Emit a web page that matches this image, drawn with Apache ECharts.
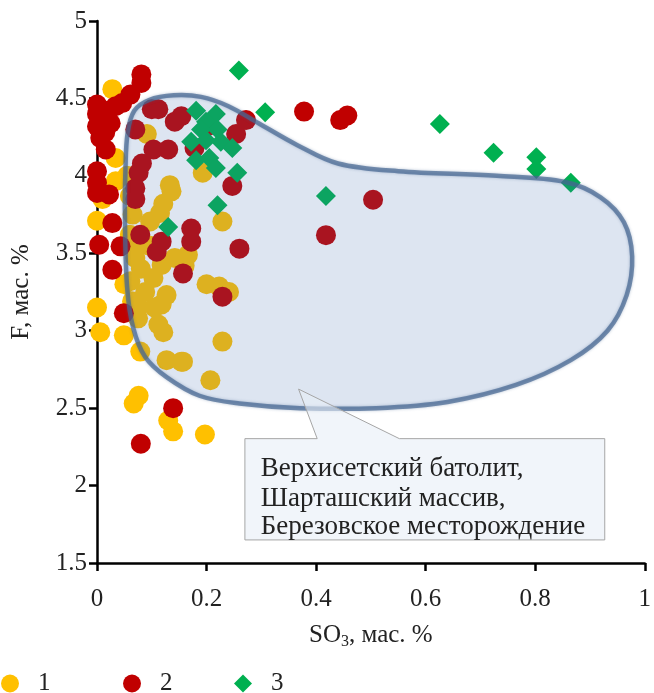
<!DOCTYPE html>
<html><head><meta charset="utf-8">
<script src="https://cdn.jsdelivr.net/npm/echarts@6/dist/echarts.min.js"></script>
<style>html,body{margin:0;padding:0;background:#fff}#c{width:654px;height:693px}</style>
</head><body><div id="c"></div>
<script>
// ---- data ----
const seriesNames = ['1', '2', '3'];
const series1 = [
  [0.028,4.56],[0.091,4.27],[0.034,4.115],[0.034,3.965],[0.133,3.94],[0.136,3.90],[0.121,3.82],[0.115,3.76],
  [0.193,4.02],[0.229,3.705],[0.166,3.49],[0.142,3.47],[0.2,3.30],[0.223,3.285],[0.241,3.25],[0.229,2.93],
  [0.157,2.80],[0.207,2.68],[0.197,2.33],[0.0,3.15],[0.006,2.99],[0.049,2.97],[0.076,3.155],[0.118,3.17],
  [0.121,2.99],[0.079,2.865],[0.127,2.81],[0.154,2.80],[0.076,2.58],[0.067,2.53],[0.13,2.42],[0.139,2.35],
  [0.0,3.71],[0.097,3.705],[0.118,3.425],[0.127,3.23],[0.103,3.34],[0.07,3.47],[0.061,3.32],[0.064,3.19],
  [0.112,3.04],[0.088,3.25],[0.06,3.62],[0.065,3.75],[0.06,3.87],[0.055,4.0],[0.07,3.55],[0.08,3.40],
  [0.075,3.08],[0.05,3.3],[0.095,3.55],[0.01,3.85],[0.16,3.42],[0.105,3.15]
];
const series2 = [
  [0.081,4.655],[0.081,4.60],[0.061,4.525],[0.046,4.47],[0.0,4.46],[0.0,4.40],[0.0,4.32],[0.006,4.245],
  [0.016,4.17],[0.0,4.03],[0.0,3.955],[0.034,4.45],[0.025,4.34],[0.1,4.43],[0.112,4.43],[0.07,4.30],
  [0.142,4.35],[0.154,4.385],[0.103,4.17],[0.13,4.17],[0.082,4.08],[0.076,4.02],[0.07,3.92],[0.07,3.85],
  [0.0,3.89],[0.022,3.88],[0.028,3.695],[0.004,3.555],[0.043,3.545],[0.028,3.393],[0.049,3.113],[0.079,3.62],
  [0.109,3.51],[0.118,3.575],[0.172,3.66],[0.172,3.575],[0.157,3.37],[0.26,3.53],[0.229,3.22],[0.139,2.50],
  [0.08,2.27],[0.247,3.935],[0.272,4.36],[0.254,4.27],[0.378,4.415],[0.444,4.36],[0.457,4.39],[0.504,3.846],
  [0.418,3.617],[0.02,4.42],[0.015,4.28],[0.178,4.18],[0.202,4.32]
];
const series3 = [
  [0.259,4.68],[0.307,4.41],[0.626,4.335],[0.724,4.15],[0.802,4.12],[0.802,4.045],[0.865,3.955],[0.418,3.87],
  [0.22,3.81],[0.13,3.67],[0.181,4.42],[0.217,4.40],[0.199,4.35],[0.22,4.30],[0.19,4.30],[0.172,4.22],
  [0.199,4.23],[0.226,4.22],[0.247,4.18],[0.181,4.10],[0.205,4.115],[0.217,4.05],[0.256,4.02]
];
const xTicks = [0, 0.2, 0.4, 0.6, 0.8, 1];
const yTicks = [1.5, 2, 2.5, 3, 3.5, 4, 4.5, 5];
// outline of the field (data coordinates)
const blobOutline = [
  [0.051,3.72],[0.052,4.05],[0.056,4.28],[0.068,4.42],[0.095,4.49],[0.14,4.52],[0.19,4.51],[0.24,4.45],
  [0.295,4.34],[0.365,4.2],[0.44,4.08],[0.55,4.03],[0.73,4.0],[0.855,3.96],[0.92,3.86],[0.962,3.70],
  [0.977,3.48],[0.967,3.23],[0.932,3.0],[0.865,2.81],[0.765,2.65],[0.64,2.54],[0.51,2.5],[0.37,2.5],
  [0.26,2.53],[0.187,2.58],[0.127,2.70],[0.088,2.83],[0.066,3.02],[0.055,3.28]
];
const calloutLines = ['Верхисетский батолит,', 'Шарташский массив,', 'Березовское месторождение'];
// callout geometry (data coordinates)
const calloutBox = { x0: 0.27, x1: 0.927, y0: 1.649, y1: 2.303 };
const calloutTip = { x: 0.368, y: 2.623, b0: 0.402, b1: 0.552 };
const calloutTextX = 0.299;
const calloutTextY = [2.105, 1.917, 1.736];

const FONT = '"Liberation Serif", "Times New Roman", serif';
const colors = ['#FFC000', '#C00000', '#00B050'];
const FS = 25;

const chart = echarts.init(document.getElementById('c'), null, { renderer: 'canvas' });

function renderOverlay(params, api) {
  if (params.dataIndex !== 0) return null;
  const pts = blobOutline.map(p => api.coord(p));
  const b = calloutBox, t = calloutTip;
  const cp = [
    [b.x0, b.y1], [t.b0, b.y1], [t.x, t.y], [t.b1, b.y1], [b.x1, b.y1], [b.x1, b.y0], [b.x0, b.y0]
  ].map(p => api.coord(p));
  const children = [
    { type: 'polygon', shape: { points: pts, smooth: 0.35 },
      style: { fill: 'rgba(68,114,196,0.12)', stroke: 'rgba(70,102,145,0.7)', lineWidth: 4.5,
               shadowBlur: 3, shadowColor: 'rgba(70,102,145,0.55)' } },
    { type: 'polygon', shape: { points: cp },
      style: { fill: 'rgba(232,238,246,0.6)', stroke: '#a6a6a6', lineWidth: 1 } }
  ];
  calloutLines.forEach((s, i) => {
    const p = api.coord([calloutTextX, calloutTextY[i]]);
    children.push({ type: 'text', x: p[0], y: p[1],
      style: { text: s, fill: '#222', font: '27px ' + FONT, align: 'left', verticalAlign: 'middle' } });
  });
  return { type: 'group', children };
}

function legendFor(i, left, icon) {
  return {
    left: left, top: 671, padding: 0, itemWidth: 18, itemHeight: 18,
    data: [{ name: seriesNames[i], icon: icon }],
    textStyle: { fontFamily: FONT, fontSize: FS, color: '#222', padding: [0, 0, 0, 14] }
  };
}

chart.setOption({
  animation: false,
  backgroundColor: '#fff',
  grid: { left: 97, right: 4, top: 21, bottom: 130, containLabel: false },
  legend: [legendFor(0, 1, 'circle'), legendFor(1, 123, 'circle'), legendFor(2, 234, 'diamond')],
  xAxis: {
    type: 'value', min: xTicks[0], max: xTicks[xTicks.length - 1], interval: xTicks[1] - xTicks[0],
    name: 'SO{sub|3}, мас. %', nameLocation: 'middle', nameGap: 57,
    nameTextStyle: { fontFamily: FONT, fontSize: FS, color: '#222',
      rich: { sub: { fontFamily: FONT, fontSize: 16, color: '#222', verticalAlign: 'bottom', padding: [14, 0, 0, 0] } } },
    axisLine: { show: true, onZero: false, lineStyle: { color: '#000', width: 2.5 } },
    axisTick: { show: true, inside: false, length: 8, lineStyle: { color: '#000', width: 2.5 } },
    axisLabel: { fontFamily: FONT, fontSize: FS, color: '#222', margin: 24 },
    splitLine: { show: false }
  },
  yAxis: {
    type: 'value', min: yTicks[0], max: yTicks[yTicks.length - 1], interval: yTicks[1] - yTicks[0],
    name: 'F, мас. %', nameLocation: 'middle', nameGap: 63, nameRotate: 90,
    nameTextStyle: { fontFamily: FONT, fontSize: FS, color: '#222' },
    axisLine: { show: true, onZero: false, lineStyle: { color: '#000', width: 2.5 } },
    axisTick: { show: true, inside: false, length: 8, lineStyle: { color: '#000', width: 2.5 } },
    axisLabel: { fontFamily: FONT, fontSize: FS, color: '#222', margin: 10 },
    splitLine: { show: false }
  },
  series: [
    { name: seriesNames[0], type: 'scatter', data: series1, symbol: 'circle', symbolSize: 20,
      itemStyle: { color: colors[0], opacity: 1 }, z: 2 },
    { name: seriesNames[1], type: 'scatter', data: series2, symbol: 'circle', symbolSize: 20,
      itemStyle: { color: colors[1], opacity: 1 }, z: 3 },
    { name: seriesNames[2], type: 'scatter', data: series3, symbol: 'diamond', symbolSize: 20,
      itemStyle: { color: colors[2], opacity: 1 }, z: 4 },
    { name: 'field', type: 'custom', data: blobOutline, renderItem: renderOverlay, z: 5, silent: true,
      clip: false }
  ]
});
</script>
</body></html>
